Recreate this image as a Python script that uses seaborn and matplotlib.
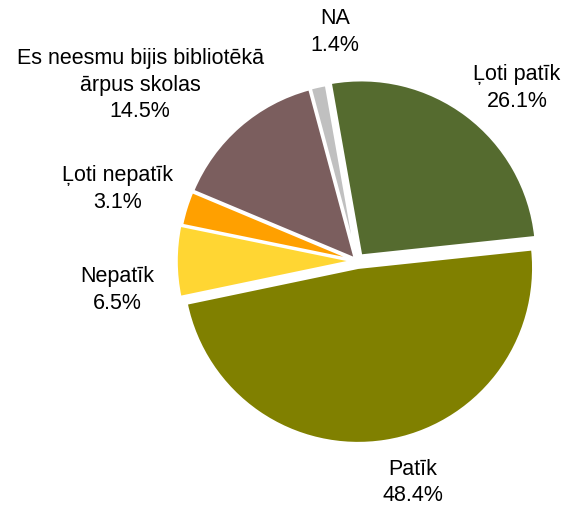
import matplotlib
matplotlib.use("Agg")
import matplotlib.pyplot as plt
import seaborn as sns
import numpy as np

categories = ["Ļoti patīk", "Patīk", "Nepatīk", "Ļoti nepatīk",
              "Es neesmu bijis bibliotēkā\nārpus skolas", "NA"]
values = [26.1, 48.4, 6.5, 3.1, 14.5, 1.4]
colors = ["#556B2F", "#808000", "#FFD633", "#FFA000", "#7B5E5E", "#C0C0C0"]

# label placement (angle in degrees, distance in radii)
label_angle = [47.4, -75.8, 186.7, 163.0, 140.8, 95.5]
label_dist = [1.35, 1.30, 1.38, 1.43, 1.60, 1.32]

sns.set_theme(style="white")
plt.rcParams['font.family'] = ['Liberation Sans', 'DejaVu Sans']

fig = plt.figure(figsize=(5.65, 5.1), dpi=100)
ax = fig.add_axes([0, 0, 1, 1])

labels = [f"{c}\n{v:.1f}%" for c, v in zip(categories, values)]
explode = [0.04, 0.04, 0.03, 0.02, 0.02, 0.02]
wedges, texts = ax.pie(values, labels=labels, colors=colors, startangle=100,
                       counterclock=False, explode=explode, labeldistance=1.3,
                       wedgeprops=dict(edgecolor="white", linewidth=1.5),
                       textprops=dict(fontsize=15.5, color="black", ha="center", va="center"))
for t, a, d in zip(texts, label_angle, label_dist):
    t.set_horizontalalignment("center")
    t.set_verticalalignment("center")
    t.set_position((d * np.cos(np.radians(a)), d * np.sin(np.radians(a))))
    t.set_linespacing(1.35)

R = 175.0
ax.set_aspect("auto")
ax.set_xlim(-357 / R, (565 - 357) / R)
ax.set_ylim(-248 / R, (510 - 248) / R)
ax.axis("off")

fig.savefig("out.png", dpi=100)
